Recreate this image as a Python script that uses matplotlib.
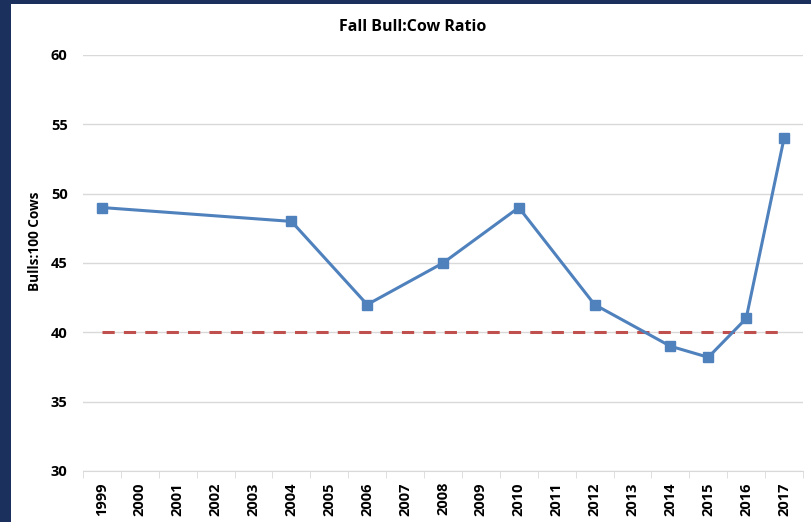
import matplotlib
matplotlib.use('Agg')
import matplotlib.pyplot as plt
from matplotlib.patches import Rectangle
import numpy as np

years = [str(y) for y in range(1999, 2018)]
obs_years = ['1999', '2004', '2006', '2008', '2010', '2012', '2014', '2015', '2016', '2017']
ratio = [49, 48, 42, 45, 49, 42, 39, 38.2, 41, 54]
target = 40

plt.rcParams['font.family'] = ['Open Sans', 'DejaVu Sans']

fig = plt.figure(figsize=(8.11, 5.22), dpi=100)
fig.patch.set_facecolor('#1b305c')
fig.patches.append(Rectangle((11 / 811, 0), 1, (522 - 4) / 522, transform=fig.transFigure,
                             facecolor='white', edgecolor='none', zorder=-10))

ax = fig.add_axes([83 / 811, 1 - 471 / 522, 720 / 811, (471 - 55) / 522])
ax.set_facecolor('white')

xpos = [years.index(y) for y in obs_years]
ax.plot([0, len(years) - 1], [target, target], color='#c0504d', lw=2.2, ls=(0, (4, 3)), zorder=2)
ax.plot(xpos, ratio, color='#4f81bd', lw=2.2, marker='s', ms=7, zorder=3)

ax.set_xlim(-0.5, len(years) - 0.5)
ax.set_ylim(30, 60)
ax.set_yticks(range(30, 61, 5))
ax.yaxis.grid(True, color='#d9d9d9', lw=1)
ax.set_axisbelow(True)

ax.set_xticks(range(len(years)))
ax.set_xticklabels(years, rotation=90, fontsize=10.5, fontweight='bold')
ax.set_xticks(np.arange(-0.5, len(years)), minor=True)
ax.tick_params(axis='x', which='major', length=0, pad=8)
ax.tick_params(axis='x', which='minor', length=5, color='#d9d9d9')
ax.tick_params(axis='y', length=0, pad=11, labelsize=10.5)
for lab in ax.get_yticklabels():
    lab.set_fontweight('bold')

for s in ['top', 'right', 'left']:
    ax.spines[s].set_visible(False)
ax.spines['bottom'].set_color('#d9d9d9')

ax.set_ylabel('Bulls:100 Cows', fontsize=9.8, fontweight='bold')
ax.yaxis.set_label_coords(-0.057, 0.553)
fig.text(413 / 811, 1 - 27 / 522, 'Fall Bull:Cow Ratio', ha='center', va='center',
         fontsize=11.5, fontweight='bold')

fig.savefig('out.png', dpi=100, facecolor=fig.get_facecolor())
